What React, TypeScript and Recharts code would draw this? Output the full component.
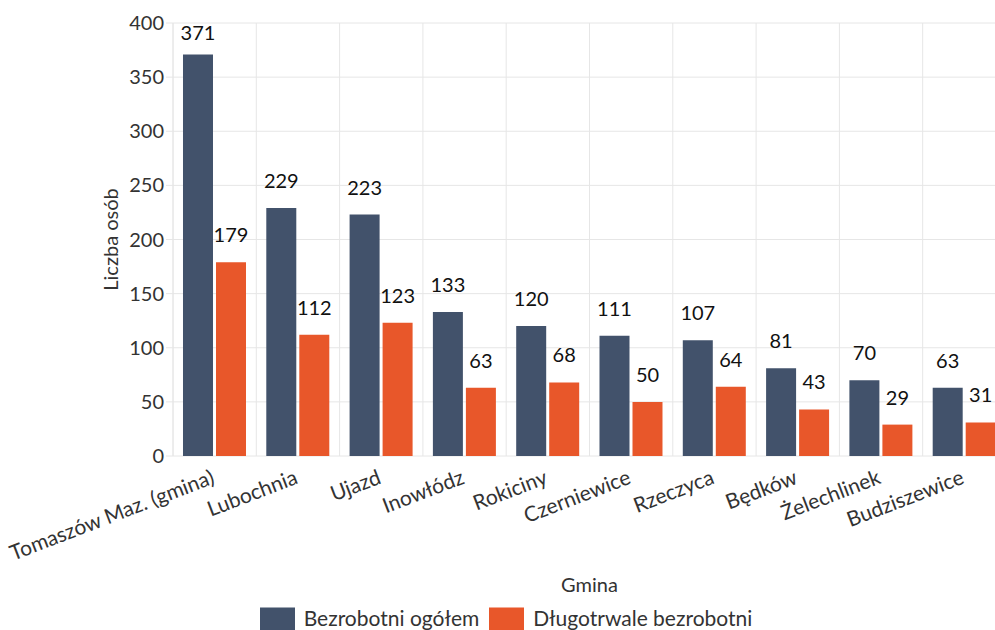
import { BarChart, Bar, XAxis, YAxis, CartesianGrid, Legend, LabelList } from "recharts";

const gminy = [
  "Tomaszów Maz. (gmina)",
  "Lubochnia",
  "Ujazd",
  "Inowłódz",
  "Rokiciny",
  "Czerniewice",
  "Rzeczyca",
  "Będków",
  "Żelechlinek",
  "Budziszewice",
];
const ogolem = [371, 229, 223, 133, 120, 111, 107, 81, 70, 63];
const dlugotrwale = [179, 112, 123, 63, 68, 50, 64, 43, 29, 31];
const yTicks = [0, 50, 100, 150, 200, 250, 300, 350, 400];
const boundaryTicks = [0, 1, 2, 3, 4, 5, 6, 7, 8, 9, 10];

const data = gminy.map((g, i) => ({
  gmina: g,
  ogolem: ogolem[i],
  dlugotrwale: dlugotrwale[i],
}));

const FONT = "Lato, sans-serif";
const GRID = "#e6e6e6";

function GminaTick(props: any) {
  const { x, y, payload } = props;
  return (
    <text
      transform={`translate(${x + 1},${y + 19}) rotate(-21)`}
      textAnchor="end"
      fontSize={21}
      fontFamily={FONT}
      fill="#333"
    >
      {payload.value}
    </text>
  );
}

function ValueLabel(props: any) {
  const { x, y, width, value } = props;
  return (
    <text
      x={x + width / 2}
      y={Math.max(y - 20, 40)}
      textAnchor="middle"
      fontSize={20}
      fontFamily={FONT}
      fill="#111"
    >
      {value}
    </text>
  );
}

export default function App() {
  return (
    <div style={{ position: "absolute", left: 0, top: 0, width: 995, height: 630, overflow: "hidden" }}>
      <BarChart
        width={1012}
        height={640}
        data={data}
        margin={{ top: 23, right: 6, left: 0, bottom: 2 }}
        barCategoryGap="12%"
        barGap={3}
      >
        <CartesianGrid
          stroke={GRID}
          verticalCoordinatesGenerator={({ offset }: any) =>
            boundaryTicks.map((t) => offset.left + (t * offset.width) / 10)
          }
        />
        <XAxis
          xAxisId="grid"
          type="number"
          domain={[0, 10]}
          ticks={boundaryTicks}
          allowDataOverflow
          height={0}
          tick={<g />}
          tickSize={7}
          tickLine={{ stroke: GRID }}
          axisLine={{ stroke: "#d9d9d9" }}
        />
        <XAxis
          dataKey="gmina"
          height={147}
          interval={0}
          axisLine={false}
          tickLine={false}
          tick={<GminaTick />}
          label={{
            value: "Gmina",
            position: "insideBottom",
            offset: 11,
            fontSize: 20,
            fontFamily: FONT,
            fill: "#333",
          }}
        />
        <YAxis
          width={173}
          domain={[0, 400]}
          ticks={yTicks}
          tickSize={7}
          tickLine={{ stroke: GRID }}
          axisLine={{ stroke: GRID }}
          tick={{ fontSize: 20, fontFamily: FONT, fill: "#333" }}
          label={{
            value: "Liczba osób",
            angle: -90,
            position: "insideLeft",
            offset: 111,
            fontSize: 20,
            fontFamily: FONT,
            fill: "#333",
            style: { textAnchor: "middle" },
          }}
        />
        <Legend
          verticalAlign="bottom"
          iconType="rect"
          iconSize={35}
          wrapperStyle={{ fontFamily: FONT, fontSize: 21, color: "#333", left: 5, width: 1012 }}
          formatter={(v: string) => <span style={{ color: "#333", marginLeft: 5 }}>{v}</span>}
        />
        <Bar dataKey="ogolem" name="Bezrobotni ogółem" fill="#42526B" isAnimationActive={false}>
          <LabelList dataKey="ogolem" content={<ValueLabel />} />
        </Bar>
        <Bar dataKey="dlugotrwale" name="Długotrwale bezrobotni" fill="#E8572A" isAnimationActive={false}>
          <LabelList dataKey="dlugotrwale" content={<ValueLabel />} />
        </Bar>
      </BarChart>
    </div>
  );
}
